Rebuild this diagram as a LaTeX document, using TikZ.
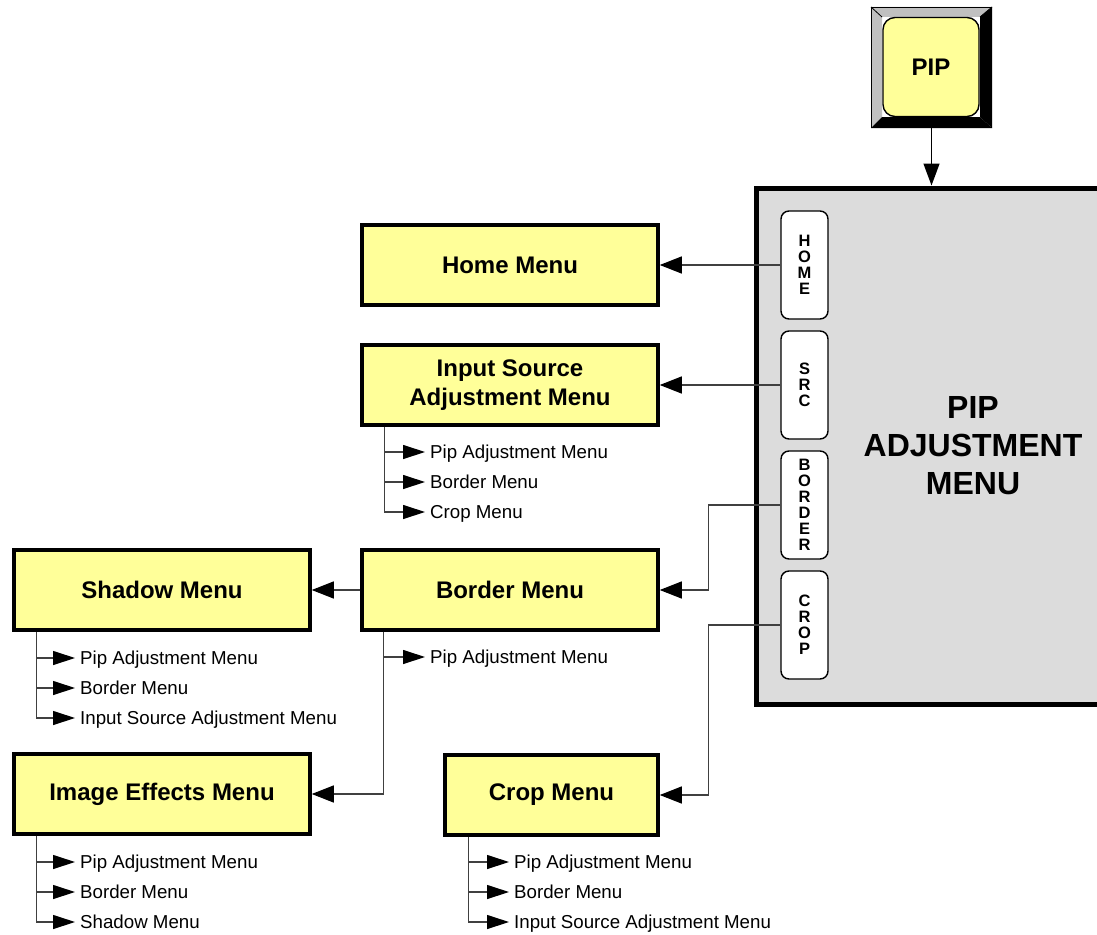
\documentclass[tikz,border=0pt]{standalone}
\usepackage{fontspec}
\setmainfont{Liberation Sans}
\usetikzlibrary{arrows.meta,calc}
\definecolor{menuyellow}{HTML}{FFFF99}
\definecolor{panelgray}{HTML}{DCDCDC}
\definecolor{bevelgray}{HTML}{C0C0C0}
\definecolor{linegray}{HTML}{404040}
\begin{document}
\begin{tikzpicture}[x=1pt,y=-1pt,
  menubox/.style={draw=black,line width=3.5pt,fill=menuyellow,minimum width=296pt,minimum height=80pt,
    font=\fontsize{24}{29}\selectfont\bfseries,align=center,inner sep=0pt},
  tabbox/.style={draw=black,line width=1.4pt,fill=white,rounded corners=8pt,minimum width=47pt,minimum height=108pt,
    font=\fontsize{16.5}{16}\selectfont\bfseries,align=center,inner sep=0pt},
  item/.style={anchor=west,inner xsep=5pt,inner ysep=0pt,text height=13.4pt,text depth=0pt,
    font=\fontsize{18.7}{22}\selectfont},
  conn/.style={draw=linegray,line width=1.2pt,-{Triangle[length=22pt,width=17pt,color=black]}},
  sub/.style={draw=linegray,line width=1.2pt,-{Triangle[length=22pt,width=14pt,color=black]}},
]
\useasboundingbox (0,0) rectangle (1097,934);
\clip (0,0) rectangle (1097,934);

% PIP button
\fill[bevelgray] (871,7) -- (992,7) -- (980,17) -- (882,17) -- cycle;
\fill[bevelgray] (871,7) -- (882,17) -- (882,117) -- (871,128) -- cycle;
\fill[black] (992,7) -- (992,128) -- (980,117) -- (980,17) -- cycle;
\fill[black] (871,128) -- (992,128) -- (980,117) -- (882,117) -- cycle;
\draw[black,line width=0.8pt] (871,7) -- (882,17) (992,7) -- (980,17);
\node[draw=black,line width=1.2pt,minimum width=120pt,minimum height=120pt,inner sep=0pt] (pipframe) at (931.5,67.5) {};
\node[draw=black,line width=1.4pt,fill=menuyellow,rounded corners=12pt,minimum width=96pt,minimum height=99pt,
  inner sep=0pt,font=\fontsize{24}{29}\selectfont\bfseries] (pipbtn) at (931,67) {PIP};

% panel
\node[draw=black,line width=5pt,fill=panelgray,minimum width=434pt,minimum height=516pt,inner sep=0pt,
  align=center,font=\fontsize{32}{38}\selectfont\bfseries] (panel) at (973,446) {PIP\\ADJUSTMENT\\MENU};
\draw[draw=black,line width=1.4pt,-{Triangle[length=22pt,width=16pt,color=black]}] (pipframe.south) -- (pipframe.south |- panel.north);

% tabs
\node[tabbox] (thome) at (804.5,265) {H\\O\\M\\E};
\node[tabbox] (tsrc) at (804.5,385) {S\\R\\C};
\node[tabbox] (tborder) at (804.5,505) {B\\O\\R\\D\\E\\R};
\node[tabbox] (tcrop) at (804.5,625) {C\\R\\O\\P};

% menu boxes
\node[menubox] (home) at (510,265) {Home Menu};
\node[menubox] (isa) at (510,385) {Input Source\\Adjustment Menu};
\node[menubox] (border) at (510,590) {Border Menu};
\node[menubox] (shadow) at (162,590) {Shadow Menu};
\node[menubox] (image) at (162,794) {Image Effects Menu};
\node[menubox,minimum width=213pt] (crop) at (551.5,795) {Crop Menu};

% main connectors
\draw[conn] (thome.west) -- (home.east);
\draw[conn] (tsrc.west) -- (isa.east);
\draw[conn] (tborder.west) -- ++(-72,0) |- (border.east);
\draw[conn] (tcrop.west) -- ++(-72,0) |- (crop.east);
\draw[conn] (border.west) -- (shadow.east);
\draw[conn] ([xshift=23pt]border.south west) |- (image.east);

% sub items: input source
\node[item] (i1) at (425,452) {Pip Adjustment Menu};
\node[item] (i2) at (425,482) {Border Menu};
\node[item] (i3) at (425,512) {Crop Menu};
\foreach \n in {i1,i2,i3} \draw[sub] ([xshift=24pt]isa.south west) |- (\n.west);

% border
\node[item] (b1) at (425,657) {Pip Adjustment Menu};
\draw[sub] ([xshift=23pt]border.south west) |- (b1.west);

% shadow
\node[item] (s1) at (75,658) {Pip Adjustment Menu};
\node[item] (s2) at (75,688) {Border Menu};
\node[item] (s3) at (75,718) {Input Source Adjustment Menu};
\foreach \n in {s1,s2,s3} \draw[sub] ([xshift=24pt]shadow.south west) |- (\n.west);

% image effects
\node[item] (e1) at (75,862) {Pip Adjustment Menu};
\node[item] (e2) at (75,892) {Border Menu};
\node[item] (e3) at (75,922) {Shadow Menu};
\foreach \n in {e1,e2,e3} \draw[sub] ([xshift=24pt]image.south west) |- (\n.west);

% crop
\node[item] (c1) at (509,862) {Pip Adjustment Menu};
\node[item] (c2) at (509,892) {Border Menu};
\node[item] (c3) at (509,922) {Input Source Adjustment Menu};
\foreach \n in {c1,c2,c3} \draw[sub] ([xshift=25pt]crop.south west) |- (\n.west);
\end{tikzpicture}
\end{document}
